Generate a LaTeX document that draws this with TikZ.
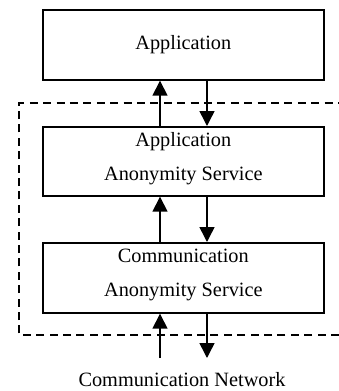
\documentclass[tikz,border=0pt]{standalone}
\usepackage{fontspec}
\setmainfont{Liberation Serif}
\usetikzlibrary{arrows.meta}
\begin{document}
\begin{tikzpicture}[x=1pt,y=-1pt,
  layerbox/.style={draw,line width=1.7pt,minimum width=281pt,anchor=north west,
    inner sep=0pt},
  layertext/.style={align=center,inner sep=0pt,font=\fontsize{20.3}{34}\selectfont},
  flow/.style={line width=1.5pt,-{Triangle[length=15pt,width=15pt]}},
  frame/.style={line width=1.4pt,dash pattern=on 8pt off 5.4pt}]
\useasboundingbox (0,0) rectangle (339,391);
% service frame, open on the right
\draw[frame] (339,335) -- (19,335) -- (19,103) -- (339,103);
% layers
\node[layerbox,minimum height=70pt] (app) at (42,9) {};
\node[layertext] (appt) at (app.center) {Application};
\node[layerbox,minimum height=69pt] (aas) at (42,126) {};
\node[layertext] (aast) at ([yshift=3pt]aas.center) {Application\\Anonymity Service};
\node[layerbox,minimum height=70pt] (cas) at (42,242) {};
\node[layertext] (cast) at ([yshift=3pt]cas.center) {Communication\\Anonymity Service};
\node[font=\fontsize{20.3}{24}\selectfont] (net) at (182,380) {Communication Network};
% connectors
\coordinate (nu) at (160,358);
\coordinate (nd) at (207,358);
\draw[flow] (aas.north west -| nu) -- (app.south west -| nu);
\draw[flow] (app.south west -| nd) -- (aas.north west -| nd);
\draw[flow] (cas.north west -| nu) -- (aas.south west -| nu);
\draw[flow] (aas.south west -| nd) -- (cas.north west -| nd);
\draw[flow] (nu) -- (cas.south west -| nu);
\draw[flow] (cas.south west -| nd) -- (nd);
\end{tikzpicture}
\end{document}
